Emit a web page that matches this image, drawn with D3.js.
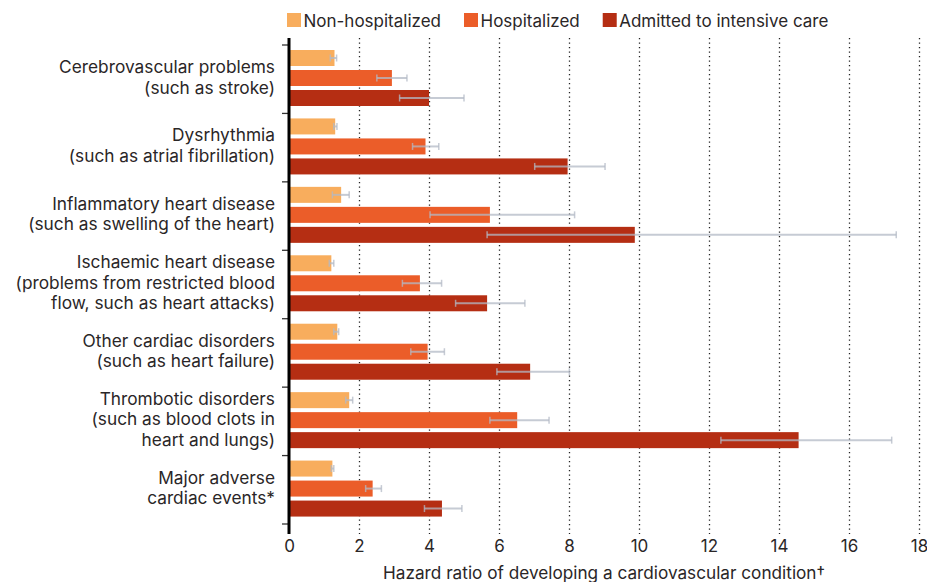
<!DOCTYPE html>
<html><head><meta charset="utf-8">
<script src="https://cdn.jsdelivr.net/npm/d3@7"></script>
<style>
html,body{margin:0;padding:0;background:#fff;}
svg{display:block;font-family:Inter, "Open Sans", sans-serif;}
</style></head>
<body>
<svg id="chart" width="927" height="582"></svg>
<script>
const categories = [
  ["Cerebrovascular problems","(such as stroke)"],
  ["Dysrhythmia","(such as atrial fibrillation)"],
  ["Inflammatory heart disease","(such as swelling of the heart)"],
  ["Ischaemic heart disease","(problems from restricted blood","flow, such as heart attacks)"],
  ["Other cardiac disorders","(such as heart failure)"],
  ["Thrombotic disorders","(such as blood clots in","heart and lungs)"],
  ["Major adverse","cardiac events*"]
];
const seriesNames = ["Non-hospitalized","Hospitalized","Admitted to intensive care"];
const seriesColors = ["#f8ad5d","#eb5d29","#b52e13"];
const nonHosp     = [1.30, 1.32, 1.49, 1.21, 1.38, 1.72, 1.24];
const nonHospLo   = [1.18, 1.28, 1.24, 1.15, 1.28, 1.62, 1.21];
const nonHospHi   = [1.36, 1.37, 1.72, 1.28, 1.42, 1.82, 1.28];
const hosp        = [2.94, 3.90, 5.74, 3.74, 3.96, 6.52, 2.39];
const hospLo      = [2.51, 3.53, 4.03, 3.24, 3.48, 5.74, 2.19];
const hospHi      = [3.37, 4.28, 8.16, 4.36, 4.44, 7.43, 2.64];
const icu         = [4.00, 7.96, 9.88, 5.66, 6.89, 14.56, 4.37];
const icuLo       = [3.16, 7.02, 5.66, 4.76, 5.94, 12.34, 3.87];
const icuHi       = [5.00, 9.03, 17.35, 6.74, 8.01, 17.22, 4.94];
const xTicks = [0,2,4,6,8,10,12,14,16,18];
const xTitle = "Hazard ratio of developing a cardiovascular condition\u2020";

const values = [nonHosp, hosp, icu];
const lows = [nonHospLo, hospLo, icuLo];
const highs = [nonHospHi, hospHi, icuHi];

const svg = d3.select("#chart");
const x = d3.scaleLinear().domain([0,18]).range([289,919]);
const y = d3.scaleBand().domain(d3.range(categories.length)).range([45,524]).paddingInner(0).paddingOuter(0);
const yIn = d3.scaleBand().domain(d3.range(3)).range([3,63]).paddingInner(0.2).paddingOuter(0.1);

// gridlines
svg.append("g").selectAll("line").data(xTicks.filter(t=>t>0)).join("line")
  .attr("x1",d=>x(d)+0.5).attr("x2",d=>x(d)+0.5)
  .attr("y1",38).attr("y2",534)
  .attr("stroke","#222").attr("stroke-width",1.3).attr("stroke-dasharray","1.3,3.2");

// bars
const groups = svg.append("g").selectAll("g").data(categories).join("g")
  .attr("transform",(d,i)=>`translate(0,${y(i)})`);
groups.each(function(c,i){
  const g = d3.select(this);
  for(let s=0;s<3;s++){
    g.append("rect").attr("x",x(0)).attr("y",yIn(s))
      .attr("width",x(values[s][i])-x(0)).attr("height",yIn.bandwidth())
      .attr("fill",seriesColors[s]);
  }
  for(let s=0;s<3;s++){
    const cy = yIn(s)+yIn.bandwidth()/2;
    const eg = g.append("g").attr("stroke","#b3bac5").attr("stroke-opacity",0.75);
    eg.append("line").attr("x1",x(lows[s][i])).attr("x2",x(highs[s][i])).attr("y1",cy).attr("y2",cy).attr("stroke-width",2);
    eg.append("line").attr("x1",x(lows[s][i])).attr("x2",x(lows[s][i])).attr("y1",cy-3.5).attr("y2",cy+3.5).attr("stroke-width",1.5);
    eg.append("line").attr("x1",x(highs[s][i])).attr("x2",x(highs[s][i])).attr("y1",cy-3.5).attr("y2",cy+3.5).attr("stroke-width",1.5);
  }
  // label
  const lh = 20.6;
  const cyc = y.bandwidth()/2 - 2;
  const t = g.append("text").attr("text-anchor","end").attr("font-size",17.3).attr("fill","#2a2627");
  c.forEach((line,k)=>{
    t.append("tspan").attr("x",275).attr("y",cyc + (k-(c.length-1)/2)*lh).attr("dy","0.35em").text(line);
  });
});

// group boundary ticks
svg.append("g").selectAll("line").data(d3.range(categories.length+1)).join("line")
  .attr("x1",282).attr("x2",289)
  .attr("y1",d=>d<categories.length? y(d):y(categories.length-1)+y.bandwidth())
  .attr("y2",d=>d<categories.length? y(d):y(categories.length-1)+y.bandwidth())
  .attr("stroke","#333").attr("stroke-width",1.3);

// axis line
svg.append("line").attr("x1",x(0)).attr("x2",x(0)).attr("y1",38).attr("y2",534)
  .attr("stroke","#000").attr("stroke-width",3);

// x axis labels
const xAxis = d3.axisBottom(x).tickValues(xTicks).tickSize(0).tickPadding(0);
const ax = svg.append("g").attr("transform","translate(0,538)").call(xAxis);
ax.select(".domain").remove();
ax.selectAll("text").attr("font-size",17).attr("fill","#2a2627").attr("font-family","Inter, sans-serif").attr("dy","0.82em");

svg.append("text").attr("x",(x(0)+x(18))/2).attr("y",579).attr("text-anchor","middle")
  .attr("font-size",17.2).attr("fill","#2a2627").text(xTitle);

// legend
const leg = svg.append("g");
let lx = 287;
seriesNames.forEach((n,s)=>{
  leg.append("rect").attr("x",lx).attr("y",13).attr("width",14).attr("height",14).attr("fill",seriesColors[s]);
  const t = leg.append("text").attr("x",lx+16.5).attr("y",26.5).attr("font-size",17).attr("fill","#2a2627").text(n);
  lx = lx + 16.5 + t.node().getComputedTextLength() + 23;
});
</script>
</body></html>
